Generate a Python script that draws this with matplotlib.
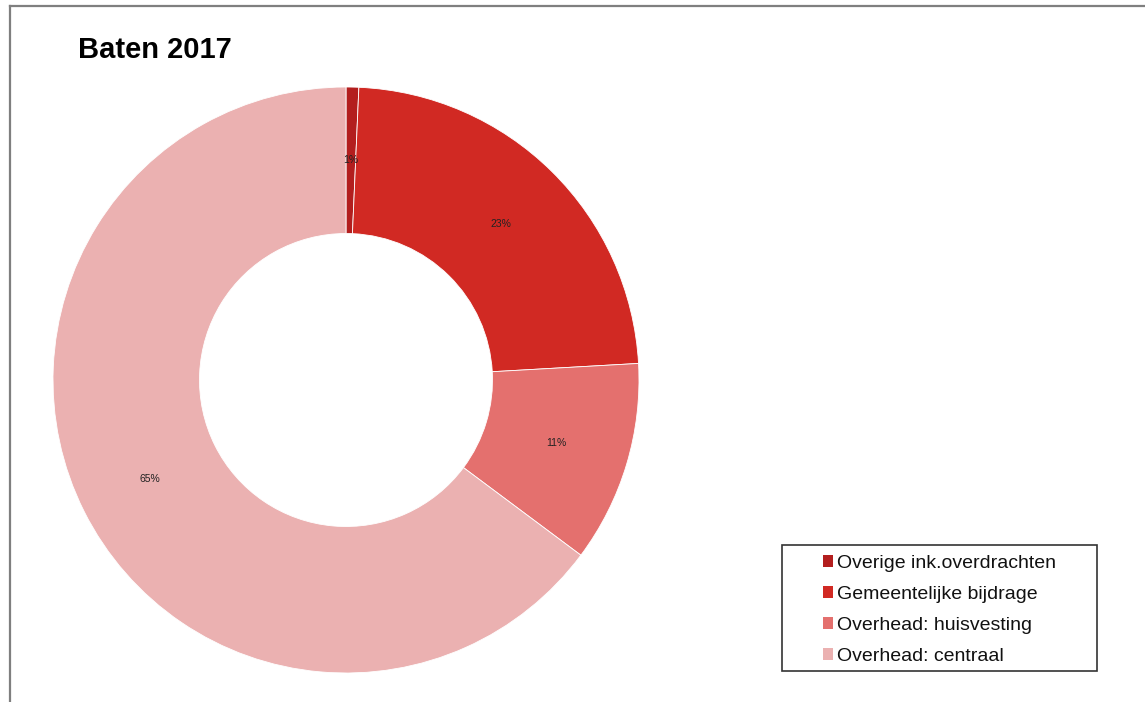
import matplotlib
matplotlib.use("Agg")
import matplotlib.pyplot as plt
from matplotlib.patches import Rectangle, Patch
from matplotlib.lines import Line2D

plt.rcParams['font.family'] = ['Liberation Sans', 'DejaVu Sans']

categories = ["Overige ink.overdrachten", "Gemeentelijke bijdrage",
              "Overhead: huisvesting", "Overhead: centraal"]
values = [0.7, 23.4, 11.1, 64.8]
colors = ["#B31E1E", "#D12923", "#E4706E", "#EBB1B1"]
title = "Baten 2017"

W, H = 1145, 702
fig = plt.figure(figsize=(W / 100, H / 100), dpi=100)

cx, cy, r = 346, 380, 293
ax = fig.add_axes([(cx - r) / W, (H - cy - r) / H, 2 * r / W, 2 * r / H])
wedges, texts, autotexts = ax.pie(
    values, colors=colors, startangle=90, counterclock=False,
    radius=1, autopct='%1.0f%%', pctdistance=0.75,
    wedgeprops=dict(width=0.5, edgecolor='white', linewidth=0.6),
    textprops=dict(fontsize=7.5, color='#222222'))
ax.set_xlim(-1, 1)
ax.set_ylim(-1, 1)
ax.set_aspect('equal')
ax.axis('off')

# title
fig.text(78 / W, 1 - 50 / H, title, fontsize=21, fontweight='bold',
         ha='left', va='center', color='black')

# outer border (left and top)
fig.add_artist(Line2D([10 / W, 10 / W], [0, 1 - 6 / H], transform=fig.transFigure,
                      color='#7f7f7f', linewidth=1.6))
fig.add_artist(Line2D([10 / W, 1], [1 - 6 / H, 1 - 6 / H], transform=fig.transFigure,
                      color='#7f7f7f', linewidth=1.6))

# legend box
bx0, by0, bx1, by1 = 782, 545, 1097, 671
fig.add_artist(Rectangle((bx0 / W, 1 - by1 / H), (bx1 - bx0) / W, (by1 - by0) / H,
                         transform=fig.transFigure, fill=False,
                         edgecolor='#333333', linewidth=1.2))
handles = [Patch(facecolor=c, edgecolor='none') for c in colors]
leg = fig.legend(handles, categories, loc='upper left',
                 bbox_to_anchor=(809 / W, 1 - 541 / H), frameon=False,
                 fontsize=14, handlelength=0.55, handleheight=0.55,
                 handletextpad=0.2, labelspacing=0.72, borderpad=0.2)
for t in leg.get_texts():
    t.set_color('#111111')

fig.savefig("out.png", dpi=100)
